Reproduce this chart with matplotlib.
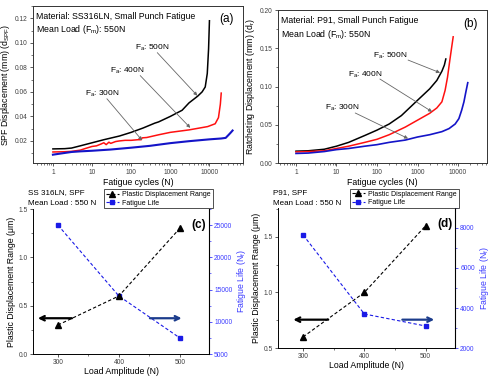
import matplotlib

matplotlib.use("Agg")
import matplotlib.pyplot as plt
from matplotlib.ticker import FixedLocator, FixedFormatter, LogLocator, MultipleLocator, NullFormatter

plt.rcParams["font.family"] = ["Liberation Sans", "DejaVu Sans"]
plt.rcParams["mathtext.default"] = "regular"

# (a) SS316LN small punch fatigue curves
a_n_500 = [1, 2, 3, 5, 10, 20, 50, 100, 200, 400, 500, 1000, 2000, 3000, 5000, 6500, 7800, 8800, 9500, 10000]
a_d_500 = [0.0135, 0.0137, 0.0142, 0.016, 0.0185, 0.021, 0.024, 0.027, 0.0305, 0.0345, 0.0355, 0.040,
           0.045, 0.051, 0.0565, 0.060, 0.064, 0.075, 0.095, 0.118]
a_n_400 = [1, 2, 3, 5, 7, 10, 13, 17, 20, 23, 27, 30, 40, 50, 70, 100, 150, 180, 190, 250, 500, 1000,
           3000, 9000, 14000, 17000, 19000, 20000]
a_d_400 = [0.011, 0.0112, 0.0115, 0.0125, 0.014, 0.0155, 0.016, 0.0175, 0.0185, 0.017, 0.019, 0.018,
           0.0195, 0.020, 0.0205, 0.0205, 0.021, 0.021, 0.0225, 0.0228, 0.025, 0.027, 0.029, 0.0317,
           0.034, 0.039, 0.05, 0.059]
a_n_300 = [1, 2, 3, 5, 10, 30, 100, 300, 1000, 3000, 10000, 20000, 26000, 31000, 35000, 39000]
a_d_300 = [0.0088, 0.0102, 0.011, 0.0115, 0.012, 0.013, 0.0145, 0.016, 0.0182, 0.0198, 0.0213, 0.022,
           0.0225, 0.025, 0.0268, 0.0285]

# (b) P91 small punch fatigue curves
b_n_500 = [1, 2, 5, 10, 20, 50, 100, 200, 400, 1000, 2000, 3000, 4000, 4600, 5000]
b_d_500 = [0.0155, 0.016, 0.018, 0.022, 0.027, 0.036, 0.043, 0.051, 0.062, 0.082, 0.097, 0.108, 0.12,
           0.128, 0.136]
b_n_400 = [1, 2, 5, 10, 20, 50, 100, 200, 500, 1000, 2000, 3000, 4000, 4800, 5500, 6300, 7000, 7600]
b_d_400 = [0.0145, 0.015, 0.016, 0.019, 0.022, 0.027, 0.031, 0.037, 0.047, 0.056, 0.065, 0.072, 0.080,
           0.095, 0.112, 0.135, 0.152, 0.165]
b_n_300 = [1, 2, 5, 10, 20, 50, 100, 200, 500, 1000, 2000, 4000, 6000, 8500, 10500, 12300, 14000, 15500,
           17400]
b_d_300 = [0.0125, 0.013, 0.015, 0.0175, 0.019, 0.022, 0.024, 0.027, 0.030, 0.034, 0.037, 0.041, 0.045,
           0.051, 0.058, 0.069, 0.080, 0.092, 0.105]

# (c), (d) plastic displacement range and fatigue life
load_amp = [300, 400, 500]
c_range = [0.3, 0.6, 1.3]
c_life = [25000, 14000, 7500]
d_range = [0.6, 1.0, 1.6]
d_life = [7650, 3700, 3100]

log_ticks = [1, 10, 100, 1000, 10000]
log_labels = ["1", "10", "100", "1000", "10000"]

BLUE = "#1414c8"
RED = "#ff1010"
TICK_FS = 4.8
LABEL_FS = 6.3
TEXT_FS = 6.3


def style_log_axes(ax):
    ax.set_xscale("log")
    ax.xaxis.set_major_locator(FixedLocator(log_ticks))
    ax.xaxis.set_major_formatter(FixedFormatter(log_labels))
    ax.xaxis.set_minor_locator(LogLocator(base=10, subs=range(2, 10), numticks=20))
    ax.xaxis.set_minor_formatter(NullFormatter())
    ax.tick_params(which="both", direction="out", labelsize=TICK_FS, colors="0.25", pad=1.5)
    ax.tick_params(which="major", length=2.5, width=0.6)
    ax.tick_params(which="minor", length=1.3, width=0.5)
    for s in ax.spines.values():
        s.set_linewidth(0.7)
        s.set_color("0.2")


def arrow(ax, start, tip):
    ax.annotate("", xy=tip, xytext=start,
                arrowprops=dict(arrowstyle="-|>", color="0.4", lw=0.6, mutation_scale=5,
                                shrinkA=0, shrinkB=0))


fig = plt.figure(figsize=(4.91, 3.77), dpi=100)

# ---- (a)
ax = fig.add_axes([0.0672, 0.5676, 0.4277, 0.4164])
ax.plot(a_n_500, a_d_500, color="black", lw=1.1)
ax.plot(a_n_400, a_d_400, color=RED, lw=1.1)
ax.plot(a_n_300, a_d_300, color=BLUE, lw=1.5)
style_log_axes(ax)
ax.set_xlim(0.31, 72000)
ax.set_ylim(0.002, 0.13)
ax.yaxis.set_major_locator(MultipleLocator(0.02))
ax.yaxis.set_minor_locator(MultipleLocator(0.01))
ax.set_xlabel("Fatigue cycles (N)", fontsize=LABEL_FS, labelpad=2)
ax.set_ylabel("SPF Displacement (mm) (d$_{SPF}$)", fontsize=LABEL_FS, labelpad=2)
ax.text(0.015, 0.965, "Material: SS316LN, Small Punch Fatigue", transform=ax.transAxes,
        fontsize=TEXT_FS, va="top")
ax.text(0.015, 0.895, "Mean Load (F$_m$): 550N", transform=ax.transAxes, fontsize=TEXT_FS, va="top")
ax.text(0.955, 0.955, "(a)", transform=ax.transAxes, fontsize=8.5, ha="right", va="top")
ax.text(126, 0.0962, "F$_a$: 500N", fontsize=TEXT_FS - 0.3, va="center")
arrow(ax, (464, 0.092), (4900, 0.0569))
ax.text(29, 0.0774, "F$_a$: 400N", fontsize=TEXT_FS - 0.3, va="center")
arrow(ax, (170, 0.0733), (3240, 0.0307))
ax.text(6.6, 0.0585, "F$_a$: 300N", fontsize=TEXT_FS - 0.3, va="center")
arrow(ax, (24, 0.0544), (190, 0.0205))

# ---- (b)
ax = fig.add_axes([0.5662, 0.5676, 0.4257, 0.4058])
ax.plot(b_n_500, b_d_500, color="black", lw=1.1)
ax.plot(b_n_400, b_d_400, color=RED, lw=1.1)
ax.plot(b_n_300, b_d_300, color=BLUE, lw=1.2)
style_log_axes(ax)
ax.set_xlim(0.36, 52000)
ax.set_ylim(0.0, 0.2)
ax.yaxis.set_major_locator(MultipleLocator(0.05))
ax.yaxis.set_minor_locator(MultipleLocator(0.025))
ax.set_xlabel("Fatigue cycles (N)", fontsize=LABEL_FS, labelpad=2)
ax.set_ylabel("Ratcheting Displacement (mm) (d$_r$)", fontsize=LABEL_FS, labelpad=2)
ax.text(0.015, 0.96, "Material: P91, Small Punch Fatigue", transform=ax.transAxes,
        fontsize=TEXT_FS, va="top")
ax.text(0.015, 0.885, "Mean Load (F$_m$): 550N", transform=ax.transAxes, fontsize=TEXT_FS, va="top")
ax.text(0.955, 0.95, "(b)", transform=ax.transAxes, fontsize=8.5, ha="right", va="top")
ax.text(80, 0.14, "F$_a$: 500N", fontsize=TEXT_FS - 0.3, va="center")
arrow(ax, (585, 0.1346), (3600, 0.118))
ax.text(19, 0.115, "F$_a$: 400N", fontsize=TEXT_FS - 0.3, va="center")
arrow(ax, (118, 0.1098), (2290, 0.067))
ax.text(5.2, 0.0719, "F$_a$: 300N", fontsize=TEXT_FS - 0.3, va="center")
arrow(ax, (29, 0.0654), (585, 0.032))


def dual_panel(rect, rng, life, ylim_l, ylim_r, l_major, r_major, r_minor, arrow_y, la, ra,
               title1, tag):
    ax = fig.add_axes(rect)
    ax2 = ax.twinx()
    h1, = ax.plot(load_amp, rng, color="black", ls="--", lw=0.8, dashes=(3, 2), marker="^", ms=4,
                  label="Plastic Displacement Range")
    h2, = ax2.plot(load_amp, life, color="#1a1ae6", ls="--", lw=0.8, dashes=(3, 2), marker="s", ms=3.5,
                   label="Fatigue Life")
    ax.set_xlim(259, 548)
    ax.set_ylim(*ylim_l)
    ax2.set_ylim(*ylim_r)
    ax.xaxis.set_major_locator(MultipleLocator(100))
    ax.xaxis.set_minor_locator(MultipleLocator(50))
    ax.yaxis.set_major_locator(MultipleLocator(l_major))
    ax.yaxis.set_minor_locator(MultipleLocator(l_major / 2))
    ax2.yaxis.set_major_locator(MultipleLocator(r_major))
    ax2.yaxis.set_minor_locator(MultipleLocator(r_minor))
    ax.yaxis.set_major_formatter(matplotlib.ticker.FormatStrFormatter("%.1f"))
    for a in (ax, ax2):
        a.spines["top"].set_visible(False)
        a.tick_params(which="both", direction="out", labelsize=TICK_FS, pad=1.2)
        a.tick_params(which="major", length=2.5, width=0.6)
        a.tick_params(which="minor", length=1.3, width=0.5)
    ax.tick_params(which="both", colors="0.25")
    ax2.tick_params(axis="y", which="both", colors="#3c3cff")
    ax.spines["left"].set_linewidth(0.7)
    ax.spines["bottom"].set_linewidth(0.7)
    ax2.spines["right"].set_color("#3c3cff")
    ax2.spines["right"].set_linewidth(0.7)
    ax2.spines["left"].set_visible(False)
    ax2.spines["bottom"].set_visible(False)
    ax.set_xlabel("Load Amplitude (N)", fontsize=LABEL_FS, labelpad=0.5)
    ax.set_ylabel("Plastic Displacement Range (\u03bcm)", fontsize=LABEL_FS, labelpad=2)
    ax2.set_ylabel("Fatigue Life (N$_f$)", fontsize=LABEL_FS, color="#3c3cff", labelpad=2)
    ax.annotate("", xy=(la[1], arrow_y), xytext=(la[0], arrow_y),
                arrowprops=dict(arrowstyle="->", color="black", lw=1.6, mutation_scale=8,
                                shrinkA=0, shrinkB=0))
    ax.annotate("", xy=(ra[1], arrow_y), xytext=(ra[0], arrow_y),
                arrowprops=dict(arrowstyle="->", color="#1c3c8c", lw=1.6, mutation_scale=8,
                                shrinkA=0, shrinkB=0))
    ax.text(-0.03, 1.135, title1, transform=ax.transAxes, fontsize=5.8, va="top")
    ax.text(-0.03, 1.06, "Mean Load : 550 N", transform=ax.transAxes, fontsize=5.8, va="top")
    ax.text(0.985, 0.93, tag, transform=ax.transAxes, fontsize=8.5, ha="right", va="top",
            fontweight="bold")
    leg = ax.legend(handles=[h1, h2], loc="upper right", bbox_to_anchor=(1.02, 1.135),
                    fontsize=5.0, frameon=True, fancybox=False, handlelength=2.0,
                    borderpad=0.25, labelspacing=0.2, handletextpad=0.4, borderaxespad=0)
    leg.get_frame().set_edgecolor("black")
    leg.get_frame().set_linewidth(0.6)
    ax.set_zorder(ax2.get_zorder() + 1)
    ax.patch.set_visible(False)
    return ax


dual_panel([0.0672, 0.0610, 0.3585, 0.3846], c_range, c_life, (0.0, 1.5), (5000, 27500),
           0.5, 5000, 2500, 0.37, (323, 267), (451, 503), "SS 316LN, SPF", "(c)")
dual_panel([0.5662, 0.0769, 0.3605, 0.3714], d_range, d_life, (0.5, 1.76), (2000, 9000),
           0.5, 2000, 1000, 0.755, (341, 284), (462, 514), "P91, SPF", "(d)")

fig.savefig("out.png", dpi=100)
